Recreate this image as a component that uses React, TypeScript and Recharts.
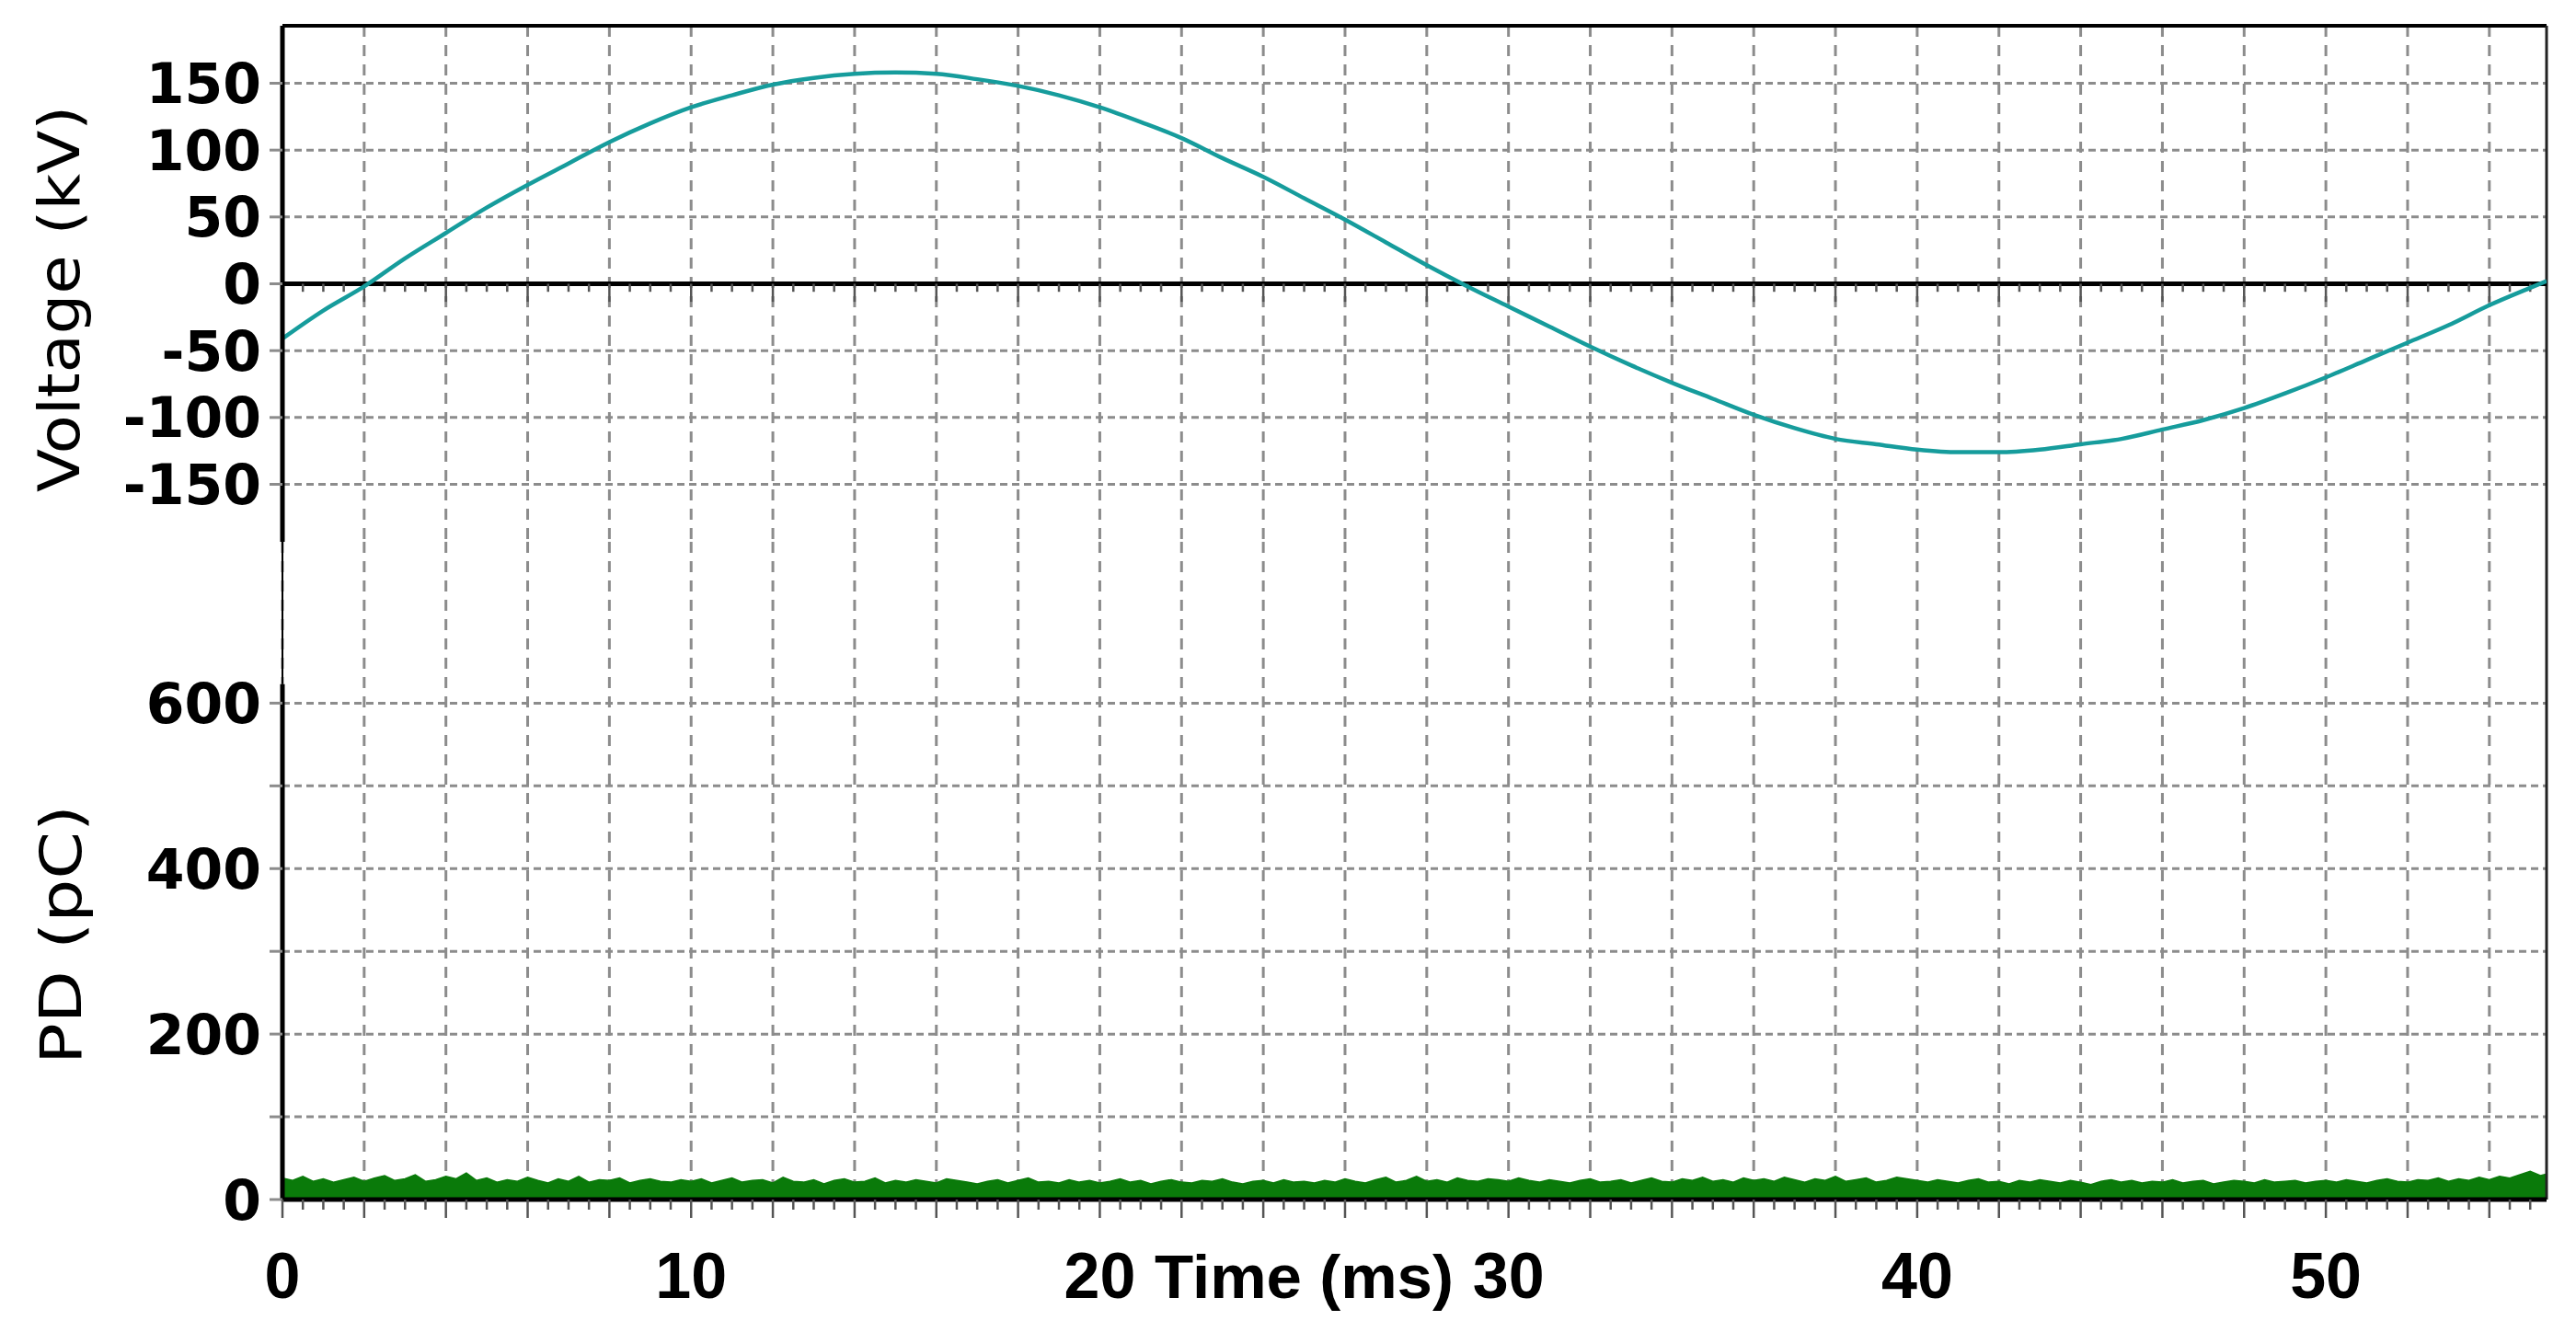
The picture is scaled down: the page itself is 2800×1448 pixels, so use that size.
import React from 'react';
import {
  ComposedChart,
  Line,
  Area,
  XAxis,
  YAxis,
  CartesianGrid,
  ReferenceLine,
  Label,
} from 'recharts';

// ---- data ----
const TIME_MS = [
  0, 1, 2, 3, 4, 5, 6, 7, 8, 9, 10, 11, 12, 13, 14, 15, 16, 17, 18, 19, 20,
  21, 22, 23, 24, 25, 26, 27, 28, 29, 30, 31, 32, 33, 34, 35, 36, 37, 38, 39,
  40, 41, 42, 43, 44, 45, 46, 47, 48, 49, 50, 51, 52, 53, 54, 55, 55.4,
];
const VOLTAGE_KV = [
  -41, -20, -2, 19, 38, 57, 74, 90, 106, 120, 132, 141, 149, 154, 157, 158, 157,
  153, 148, 141, 132, 121, 109, 94, 80, 64, 48, 31, 14, -2, -17, -32, -47, -61,
  -74, -86, -98, -108, -116, -120, -124, -126, -126, -124, -120, -116, -109,
  -102, -93, -82, -70, -57, -44, -31, -16, -3, 2,
];
// PD trace sampled every 0.25 ms
const PD_STEP_MS = 0.25;
const PD_PC = [
  26, 23, 28, 22, 25, 21, 24, 27, 22, 26, 29, 23, 25, 30, 22, 24, 28, 25, 32, 23,
  26, 21, 24, 22, 27, 23, 20, 25, 22, 28, 21, 24, 23, 26, 20, 23, 25, 22, 21, 24,
  22, 25, 20, 23, 26, 21, 23, 24, 20, 27, 22, 21, 24, 19, 23, 25, 21, 22, 26, 20,
  23, 21, 24, 22, 20, 25, 23, 21, 19, 22, 24, 20, 23, 26, 21, 22, 20, 24, 21, 23,
  20, 22, 25, 21, 23, 19, 22, 24, 21, 20, 23, 22, 25, 21, 19, 22, 23, 20, 24, 21,
  22, 20, 23, 21, 25, 22, 20, 24, 27, 21, 23, 28, 22, 24, 21, 26, 23, 22, 25, 24,
  22, 26, 23, 21, 24, 22, 20, 23, 25, 21, 22, 24, 20, 23, 26, 22, 21, 25, 23, 27,
  22, 24, 21, 26, 23, 25, 22, 27, 24, 21, 25, 23, 28, 22, 24, 26, 21, 23, 27, 25,
  23, 21, 24, 22, 20, 23, 25, 21, 22, 19, 23, 21, 24, 22, 20, 23, 21, 18, 22, 24,
  21, 23, 20, 22, 21, 24, 20, 22, 23, 19, 21, 23, 22, 20, 24, 21, 22, 23, 20, 22,
  23, 21, 24, 22, 20, 23, 25, 22, 21, 24, 23, 26, 22, 25, 23, 27, 24, 28, 26, 30,
  34, 29, 32,
];

const X_DOMAIN: [number, number] = [0, 55.4];
const V_DOMAIN: [number, number] = [-193, 193];
const PD_DOMAIN: [number, number] = [0, 795];
const PD_AXIS_TOP = 623;

const X_GRID_TICKS = [
  0, 2, 4, 6, 8, 10, 12, 14, 16, 18, 20, 22, 24, 26, 28, 30, 32, 34, 36, 38, 40,
  42, 44, 46, 48, 50, 52, 54,
];
const X_LABELS = [0, 10, 20, 30, 40, 50];
const X_MINOR_TICKS: number[] = [];
for (let i = 0; i <= 110; i++) X_MINOR_TICKS.push(i / 2);

const V_TICKS = [-150, -100, -50, 0, 50, 100, 150];
const PD_TICKS = [0, 100, 200, 300, 400, 500, 600];
const PD_LABELS = [0, 200, 400, 600];

const voltageData = TIME_MS.map((t, i) => ({ t, v: VOLTAGE_KV[i] }));
const pdData = PD_PC.map((pd, i) => ({ t: i * PD_STEP_MS, pd }));

// ---- styles ----
const GRID_COLOR = '#8c8c8c';
const TEAL = '#169c9c';
const GREEN = '#0a7a0a';
const TICK_FONT = '"DejaVu Sans", Verdana, sans-serif';
const X_FONT = '"Liberation Sans", Arial, sans-serif';

const EmptyTick = () => null;

const YTick = (props: any) => {
  const { x, y, payload, labels } = props;
  if (labels && !labels.includes(payload.value)) return null;
  return (
    <text
      x={x}
      y={y}
      dy="0.36em"
      textAnchor="end"
      fontFamily={TICK_FONT}
      fontWeight="bold"
      fontSize={60}
      fill="#000"
    >
      {payload.value}
    </text>
  );
};

const XTick = (props: any) => {
  const { x, y, payload } = props;
  const v = payload.value;
  const major = Math.abs(v % 2) < 1e-6;
  const labelled = X_LABELS.includes(v);
  return (
    <g>
      <line x1={x} x2={x} y1={y} y2={y + (major ? 20 : 11)} stroke="#555" strokeWidth={2.5} />
      {labelled && (
        <text
          x={x}
          y={y + 107}
          textAnchor="middle"
          fontFamily={X_FONT}
          fontWeight="bold"
          fontSize={70}
          fill="#000"
        >
          {v}
        </text>
      )}
    </g>
  );
};

const VoltTitle = () => (
  <text
    x={64}
    y={325}
    transform="rotate(-90, 64, 325)"
    textAnchor="middle"
    dominantBaseline="central"
    fontFamily={TICK_FONT}
    fontSize={62}
    textLength={420}
    lengthAdjust="spacingAndGlyphs"
    fill="#000"
  >
    Voltage (kV)
  </text>
);

const PdTitle = () => (
  <text
    x={66}
    y={1016}
    transform="rotate(-90, 66, 1016)"
    textAnchor="middle"
    dominantBaseline="central"
    fontFamily={TICK_FONT}
    fontSize={62}
    textLength={282}
    lengthAdjust="spacingAndGlyphs"
    fill="#000"
  >
    PD (pC)
  </text>
);

const TimeTitle = () => (
  <text
    x={1255}
    y={1411}
    textAnchor="start"
    fontFamily={X_FONT}
    fontWeight="bold"
    fontSize={66}
    textLength={325}
    lengthAdjust="spacingAndGlyphs"
    fill="#000"
  >
    Time (ms)
  </text>
);

export default function App() {
  return (
    <div style={{ position: 'absolute', left: 0, top: 0, width: 2800, height: 1448, background: '#fff' }}>
      {/* Voltage panel */}
      <div style={{ position: 'absolute', left: 0, top: 0 }}>
        <ComposedChart
          width={2800}
          height={1448}
          data={voltageData}
          margin={{ top: 28, right: 32, bottom: 859, left: 0 }}
        >
          <CartesianGrid vertical={false} syncWithTicks stroke={GRID_COLOR} strokeWidth={3} strokeDasharray="8 5" />
          <CartesianGrid horizontal={false} syncWithTicks stroke={GRID_COLOR} strokeWidth={3} strokeDasharray="12 9" />
          <XAxis
            dataKey="t"
            type="number"
            domain={X_DOMAIN}
            allowDataOverflow
            ticks={X_GRID_TICKS}
            interval={0}
            height={0}
            tick={EmptyTick}
            tickLine={false}
            axisLine={false}
          />
          <YAxis
            type="number"
            domain={V_DOMAIN}
            allowDataOverflow
            ticks={V_TICKS}
            interval={0}
            width={307}
            axisLine={{ stroke: '#000', strokeWidth: 5 }}
            tickLine={{ stroke: GRID_COLOR, strokeWidth: 3 }}
            tickSize={14}
            tickMargin={9}
            tick={<YTick />}
          >
            <Label content={<VoltTitle />} />
          </YAxis>
          <ReferenceLine y={V_DOMAIN[1]} stroke="#000" strokeWidth={4} />
          <ReferenceLine x={X_DOMAIN[1]} stroke="#222" strokeWidth={3} />
          <ReferenceLine y={0} stroke="#000" strokeWidth={5} />
          {X_MINOR_TICKS.map((t) => (
            <ReferenceLine
              key={`zt${t}`}
              segment={[
                { x: t, y: 0 },
                { x: t, y: Math.abs(t % 2) < 1e-6 ? -13.5 : -6 },
              ]}
              stroke="#555"
              strokeWidth={2.5}
            />
          ))}
          <Line
            dataKey="v"
            type="monotone"
            stroke={TEAL}
            strokeWidth={4.5}
            dot={false}
            activeDot={false}
            isAnimationActive={false}
          />
        </ComposedChart>
      </div>

      {/* PD panel */}
      <div style={{ position: 'absolute', left: 0, top: 0 }}>
        <ComposedChart
          width={2800}
          height={1448}
          data={pdData}
          margin={{ top: 589, right: 32, bottom: 0, left: 0 }}
        >
          <CartesianGrid vertical={false} syncWithTicks stroke={GRID_COLOR} strokeWidth={3} strokeDasharray="8 5" />
          <CartesianGrid xAxisId="grid" horizontal={false} syncWithTicks stroke={GRID_COLOR} strokeWidth={3} strokeDasharray="12 9" />
          <XAxis
            xAxisId="grid"
            orientation="top"
            dataKey="t"
            type="number"
            domain={X_DOMAIN}
            allowDataOverflow
            ticks={X_GRID_TICKS}
            interval={0}
            height={0}
            tick={EmptyTick}
            tickLine={false}
            axisLine={false}
          />
          <XAxis
            dataKey="t"
            type="number"
            domain={X_DOMAIN}
            allowDataOverflow
            ticks={X_MINOR_TICKS}
            interval={0}
            height={144}
            tickSize={0}
            tickMargin={0}
            tickLine={false}
            axisLine={{ stroke: '#000', strokeWidth: 5 }}
            tick={<XTick />}
          >
            <Label content={<TimeTitle />} />
          </XAxis>
          <YAxis
            type="number"
            domain={PD_DOMAIN}
            allowDataOverflow
            ticks={PD_TICKS}
            interval={0}
            width={307}
            axisLine={false}
            tickLine={{ stroke: GRID_COLOR, strokeWidth: 3 }}
            tickSize={14}
            tickMargin={9}
            tick={<YTick labels={PD_LABELS} />}
          >
            <Label content={<PdTitle />} />
          </YAxis>
          <Area
            dataKey="pd"
            type="linear"
            stroke={GREEN}
            strokeWidth={1.5}
            fill={GREEN}
            fillOpacity={1}
            baseValue={0}
            dot={false}
            activeDot={false}
            isAnimationActive={false}
          />
          <ReferenceLine
            segment={[
              { x: 0, y: 0 },
              { x: 0, y: PD_AXIS_TOP },
            ]}
            stroke="#000"
            strokeWidth={5}
          />
          <ReferenceLine
            segment={[
              { x: 0, y: PD_AXIS_TOP },
              { x: 0, y: PD_DOMAIN[1] },
            ]}
            stroke="#000"
            strokeWidth={2}
          />
          <ReferenceLine x={X_DOMAIN[1]} stroke="#222" strokeWidth={3} />
        </ComposedChart>
      </div>
    </div>
  );
}
